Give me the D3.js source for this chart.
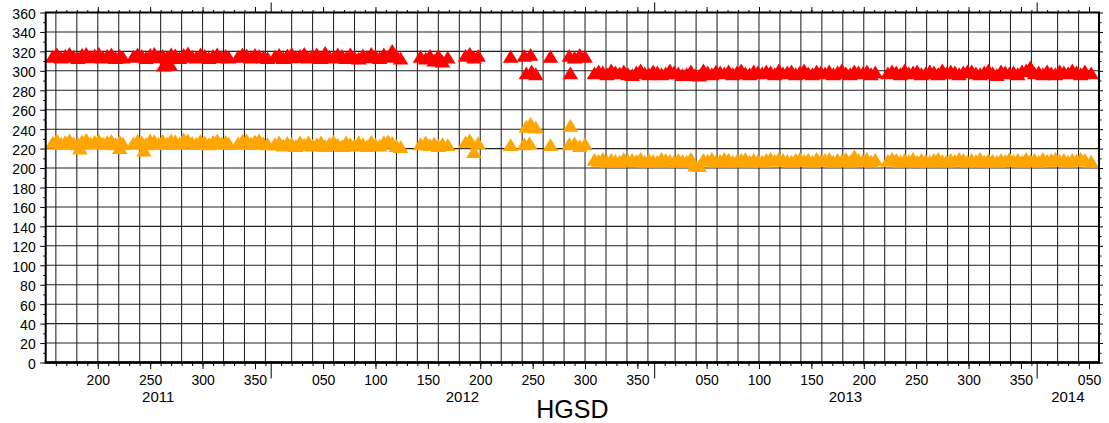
<!DOCTYPE html>
<html><head><meta charset="utf-8">
<script src="https://cdn.jsdelivr.net/npm/d3@7/dist/d3.min.js"></script>
<style>html,body{margin:0;padding:0;background:#fff}svg{display:block}</style>
</head><body>
<svg id="c" width="1109" height="423"></svg>
<script>
// ---------- DATA (day number t: 2011 doy d -> d, 2012 -> 365+d, 2013 -> 731+d, 2014 -> 1096+d) ----------
const yearLabels  = ["2011", "2012", "2013", "2014"];
const yearOffsets = [0, 365, 731, 1096];
const dayTickLabels = [50, 100, 150, 200, 250, 300, 350];
const yTickLabels = [0, 20, 40, 60, 80, 100, 120, 140, 160, 180, 200, 220, 240, 260, 280, 300, 320, 340, 360];
const title = "HGSD";

// segment 2011
const daysA   = [157,161,165,169,173,177,181,185,189,193,197,201,205,209,213,217,221,224,234,238,242,246,250,254,258,262,266,270,274,278,282,286,290,294,298,302,306,310,314,318,322,325,334,338,342,346,350,354,358,362];
const redA    = [315,317.5,314,316,318,315,313.5,317,318,314.5,316.5,318,314,316,317.5,313.5,316,314,315,317.5,316,313.5,317,318,314.5,316,314,317.5,316.5,313.5,317,318.5,315,314,317.5,316,313.5,316,317.5,314.5,316,314,315,317.5,316.5,314,317,316,314.5,313.5];
const orangeA = [226.5,229,225.5,227.5,229,226,225,228,229.5,226,227.5,229,225.5,227.5,228.5,225,227.5,225.5,226,228.5,227,225,229,228,225.5,228.5,225.5,229,228,225.5,230,229,226.5,225.5,228.5,227,225,227.5,229,226,227.5,225.5,226,228.5,229,225.5,228,229,226,225];
// segment 2012 (first part)
const daysB   = [369,373,377,381,385,389,393,397,401,405,409,413,417,421,425,429,433,437,441,445,449,453,457,461,465,469,473,477,481,485,489];
const redB    = [315,317,313.5,316.5,318,314.5,316,318,314,316.5,317.5,313.5,319,315,314,317.5,316,313.5,317.5,314,313,316.5,314.5,318,316,313.5,317.5,315,321,316,313];
const orangeB = [225,227,223.5,226.5,225,223,227,224.5,227,223.5,225,227,223,225.5,227.5,224.5,223,227,225,223.5,227,225,223,227.5,224.5,223.5,227,228,226.5,223,222];
// segment late 2012 - 2014
const daysD   = [674,678,682,686,690,694,698,702,706,710,714,718,722,726,730,734,738,742,746,750,754,758,762,766,770,774,778,782,786,790,794,798,802,806,810,814,818,822,826,830,834,838,842,846,850,854,858,862,866,870,874,878,882,886,890,894,898,902,906,910,914,918,922,926,930,934,938,942,954,958,962,966,970,974,978,982,986,990,994,998,1002,1006,1010,1014,1018,1022,1026,1030,1034,1038,1042,1046,1050,1054,1058,1062,1066,1070,1074,1078,1082,1086,1090,1094,1098,1102,1106,1110,1114,1118,1122,1126,1130,1134,1138,1142,1148];
const redD    = [298,300,299,297,301,299,298,300,297,296, 299,301,298,297,300,299,297,298,301,299, 298,296,297,300,296,295.5,301,299,297,300, 299,298,300,297,299,301,298,297,300,299, 298,300,299,297,301,298,299,300,297,299, 301,298,297,300,299,298,300,297, 299,301,298,297,300,299,298,300,297,299, 298,300,299,297,301,298,299,300,297,298, 300,299,297,301,298,300,299,297,299,300, 300,298,297,299,301,298,296,300,299,298, 299,297,300,301,304,298,299,297,300,298, 297,300,299,298,301,299,297,300,298];
const orangeD = [209,208,210,207,209,208,207,210,208,209, 208,210,207,209,208,207,210,209,208,207, 209,208,207,210,203,202.5,209,208,210,207, 208,210,209,207,208,209,210,207,209,208, 207,209,210,208,210,209,208,207,209,210, 208,209,207,210,208,209,210,207, 209,208,210,207,212.5,209,208,210,207,209, 208,210,209,207,209,208,210,207,209,208, 207,209,210,208,207,209,208,210,209,207, 209,208,210,207,209,208,207,209,208,210, 208,209,207,210,208,209,207,210,208,209, 210,208,209,207,209,208,210,209,207];
// scattered / outlying observations
const redExtraDays    = [263,269,508,513,517,521,525,529,534,551,555,559,563,594,607,613,609,614,618,632,650,655,660,665,651];
const redExtraVals    = [306,307,315,313,316,311,316,310,314,316,318,314,316,315,316,317,298,300,297,315,316,314,317,315,298];
const orangeExtraDays = [183,221,244,508,513,517,521,525,529,534,551,555,559,563,594,607,612,609,613,618,632,650,655,660,665,651];
const orangeExtraVals = [220.5,221,218.5,225,227,224,226,223,225,224,227,229,217,226,224,225,226,243,246,242,224,225,226,223,225,244];

// ---------- BUILD ----------
const zip = (ds, vs) => ds.map((d, i) => ({t: d, v: vs[i]}));
const redPts = [].concat(zip(daysA, redA), zip(daysB, redB), zip(daysD, redD), zip(redExtraDays, redExtraVals));
const orangePts = [].concat(zip(daysA, orangeA), zip(daysB, orangeB), zip(daysD, orangeD), zip(orangeExtraDays, orangeExtraVals));

const X0 = 45.7, X1 = 1099, Y0 = 362.5, Y1 = 12.5;
const x = d3.scaleLinear().domain([150.3, 1155.5]).range([X0, X1]);
const y = d3.scaleLinear().domain([0, 360]).range([Y0, Y1]);
const [tMin, tMax] = x.domain();
const inDom = t => t > tMin && t < tMax;
const FONT = "'Liberation Sans', Arial, Helvetica, sans-serif";
const svg = d3.select('#c');

// tick positions
const labelT = [], labelTxt = [], minorT = [], gridT = [];
yearOffsets.forEach(o => {
  dayTickLabels.forEach(d => { if (inDom(o + d)) { labelT.push(o + d); labelTxt.push(d3.format('03d')(d)); } });
  d3.range(10, 361, 10).forEach(d => { if (inDom(o + d)) minorT.push(o + d); });
  d3.range(20, 361, 20).forEach(d => { if (inDom(o + d)) gridT.push(o + d); });
});
const yearT = yearOffsets.filter(inDom);
const labelMap = new Map(labelT.map((t, i) => [t, labelTxt[i]]));

// grid
const grid = svg.append('g').attr('stroke', '#222').attr('stroke-width', 1.05);
grid.selectAll('line.v').data(gridT).join('line')
  .attr('x1', d => x(d)).attr('x2', d => x(d)).attr('y1', Y1).attr('y2', Y0);
grid.selectAll('line.h').data(yTickLabels.slice(1, -1)).join('line')
  .attr('y1', d => y(d)).attr('y2', d => y(d)).attr('x1', X0).attr('x2', X1);

// symbols: upward triangle centred on its bounding box
const triW = 15.5, triH = 12.8;
const isoTri = { draw(ctx) { ctx.moveTo(0, -triH / 2); ctx.lineTo(triW / 2, triH / 2); ctx.lineTo(-triW / 2, triH / 2); ctx.closePath(); } };
const tri = d3.symbol(isoTri);
function drawSeries(pts, color) {
  svg.append('g').selectAll('path').data(pts).join('path')
    .attr('d', tri)
    .attr('fill', color)
    .attr('transform', d => `translate(${x(d.t)},${y(d.v)})`);
}
drawSeries(redPts, '#ff0000');
drawSeries(orangePts, '#ffa500');

// axes (ticks)
function axisG(gen, tx, ty) {
  const g = svg.append('g').attr('transform', `translate(${tx},${ty})`).call(gen);
  g.select('.domain').remove();
  g.selectAll('line').attr('stroke', '#000').attr('stroke-width', 1);
  g.selectAll('text').attr('font-family', FONT).attr('font-size', 14).attr('fill', '#000');
  return g;
}
// bottom
axisG(d3.axisBottom(x).tickValues(minorT).tickSize(3.5).tickFormat(''), 0, Y0);
axisG(d3.axisBottom(x).tickValues(labelT).tickSize(6.5).tickPadding(6).tickFormat(t => labelMap.get(t)), 0, Y0);
axisG(d3.axisBottom(x).tickValues(yearT).tickSize(16).tickFormat(''), 0, Y0);
// top
axisG(d3.axisTop(x).tickValues(minorT).tickSize(2.5).tickFormat(''), 0, Y1);
axisG(d3.axisTop(x).tickValues(labelT).tickSize(5.5).tickFormat(''), 0, Y1);
axisG(d3.axisTop(x).tickValues(yearT).tickSize(10).tickFormat(''), 0, Y1);
// left
const yMinor = d3.range(10, 360, 20);
axisG(d3.axisLeft(y).tickValues(yMinor).tickSize(2.5).tickFormat(''), X0, 0);
axisG(d3.axisLeft(y).tickValues(yTickLabels).tickSize(5.5).tickPadding(4.5), X0, 0)
  .selectAll('text').attr('dy', '0.42em');
// right
axisG(d3.axisRight(y).tickValues(yMinor).tickSize(2.5).tickFormat(''), X1, 0);
axisG(d3.axisRight(y).tickValues(yTickLabels).tickSize(4).tickFormat(''), X1, 0);

// frame
svg.append('rect').attr('x', X0).attr('y', Y1).attr('width', X1 - X0).attr('height', Y0 - Y1)
  .attr('fill', 'none').attr('stroke', '#000').attr('stroke-width', 2);
svg.append('line').attr('x1', X0 - 1).attr('x2', X1 + 1).attr('y1', Y0).attr('y2', Y0)
  .attr('stroke', '#000').attr('stroke-width', 2.6);

// year labels
svg.append('g').selectAll('text').data(yearLabels).join('text')
  .attr('x', (d, i) => {
    const a = Math.max(yearOffsets[i], tMin);
    const b = Math.min(i + 1 < yearOffsets.length ? yearOffsets[i + 1] : tMax, tMax);
    return (x(a) + x(b)) / 2;
  })
  .attr('y', 402).attr('text-anchor', 'middle')
  .attr('font-family', FONT).attr('font-size', 15).attr('fill', '#000')
  .text(d => d);

// title
svg.append('text').attr('x', (X0 + X1) / 2).attr('y', 417.5).attr('text-anchor', 'middle')
  .attr('font-family', FONT).attr('font-size', 25).attr('fill', '#000').text(title);
</script>
</body></html>
